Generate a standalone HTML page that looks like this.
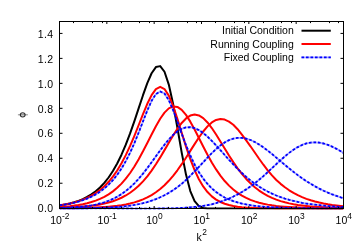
<!DOCTYPE html>
<html><head><meta charset="utf-8"><style>
html,body{margin:0;padding:0;background:#fff;}
svg{display:block;will-change:transform;font-family:"Liberation Sans",sans-serif;font-size:10.5px;fill:#000;}
</style></head><body>
<svg width="360" height="252" viewBox="0 0 360 252">
<rect width="360" height="252" fill="#fff"/>
<defs><clipPath id="cp"><rect x="59.5" y="21.5" width="284.0" height="188.1"/></clipPath></defs>
<g fill="none" stroke-width="2" stroke-linejoin="round" clip-path="url(#cp)">
<path d="M59.50,205.42 L61.30,205.14 L65.60,204.37 L69.90,203.42 L74.20,202.26 L78.50,200.83 L82.80,199.09 L87.10,196.97 L91.40,194.39 L95.70,191.26 L100.00,187.48 L104.30,182.93 L108.60,177.50 L112.90,171.05 L117.20,163.48 L121.50,154.69 L125.80,144.64 L130.10,133.38 L134.40,121.10 L138.70,108.16 L143.00,95.20 L147.30,83.16 L151.60,73.27 L155.90,67.06 L160.20,66.11 L164.50,71.76 L168.80,84.59 L173.10,103.97 L177.40,127.77 L181.70,152.58 L186.00,174.62 L190.30,191.10 L194.60,201.21 L198.90,206.13 L203.20,207.93 L207.50,208.41 L211.80,208.49 L216.10,208.50 L220.40,208.50 L224.70,208.50 L229.00,208.50 L233.30,208.50 L237.60,208.50 L241.90,208.50 L246.20,208.50 L250.50,208.50 L254.80,208.50 L259.10,208.50 L263.40,208.50 L267.70,208.50 L272.00,208.50 L276.30,208.50 L280.60,208.50 L284.90,208.50 L289.20,208.50 L293.50,208.50 L297.80,208.50 L302.10,208.50 L306.40,208.50 L310.70,208.50 L315.00,208.50 L319.30,208.50 L323.60,208.50 L327.90,208.50 L332.20,208.50 L336.50,208.50 L340.80,208.50 L343.50,208.50" stroke="#000"/>
<path d="M59.50,205.28 L61.30,205.01 L65.60,204.30 L69.90,203.44 L74.20,202.40 L78.50,201.15 L82.80,199.64 L87.10,197.83 L91.40,195.66 L95.70,193.06 L100.00,189.95 L104.30,186.23 L108.60,181.81 L112.90,176.59 L117.20,170.46 L121.50,163.33 L125.80,155.15 L130.10,145.93 L134.40,135.78 L138.70,125.00 L143.00,114.09 L147.30,103.79 L151.60,95.10 L155.90,89.12 L160.20,86.88 L164.50,89.03 L168.80,95.60 L173.10,105.93 L177.40,118.81 L181.70,132.81 L186.00,146.60 L190.30,159.23 L194.60,170.16 L198.90,179.20 L203.20,186.42 L207.50,192.05 L211.80,196.35 L216.10,199.58 L220.40,201.99 L224.70,203.76 L229.00,205.06 L233.30,206.01 L237.60,206.70 L241.90,207.20 L246.20,207.56 L250.50,207.82 L254.80,208.01 L259.10,208.15 L263.40,208.25 L267.70,208.32 L272.00,208.37 L276.30,208.41 L280.60,208.43 L284.90,208.45 L289.20,208.46 L293.50,208.47 L297.80,208.48 L302.10,208.49 L306.40,208.49 L310.70,208.49 L315.00,208.50 L319.30,208.50 L323.60,208.50 L327.90,208.50 L332.20,208.50 L336.50,208.50 L340.80,208.50 L343.50,208.50" stroke="#f00"/>
<path d="M59.50,207.05 L61.30,206.93 L65.60,206.57 L69.90,206.14 L74.20,205.61 L78.50,204.97 L82.80,204.18 L87.10,203.22 L91.40,202.06 L95.70,200.64 L100.00,198.93 L104.30,196.85 L108.60,194.36 L112.90,191.37 L117.20,187.81 L121.50,183.60 L125.80,178.67 L130.10,172.98 L134.40,166.49 L138.70,159.24 L143.00,151.32 L147.30,142.95 L151.60,134.43 L155.90,126.18 L160.20,118.73 L164.50,112.62 L168.80,108.39 L173.10,106.42 L177.40,106.93 L181.70,109.85 L186.00,114.91 L190.30,121.65 L194.60,129.53 L198.90,137.98 L203.20,146.53 L207.50,154.78 L211.80,162.47 L216.10,169.44 L220.40,175.62 L224.70,181.01 L229.00,185.63 L233.30,189.56 L237.60,192.87 L241.90,195.63 L246.20,197.93 L250.50,199.84 L254.80,201.41 L259.10,202.70 L263.40,203.76 L267.70,204.63 L272.00,205.34 L276.30,205.92 L280.60,206.40 L284.90,206.79 L289.20,207.10 L293.50,207.36 L297.80,207.57 L302.10,207.74 L306.40,207.88 L310.70,208.00 L315.00,208.09 L319.30,208.17 L323.60,208.23 L327.90,208.28 L332.20,208.32 L336.50,208.35 L340.80,208.38 L343.50,208.40" stroke="#f00"/>
<path d="M59.50,207.92 L61.30,207.86 L65.60,207.72 L69.90,207.54 L74.20,207.32 L78.50,207.06 L82.80,206.73 L87.10,206.33 L91.40,205.84 L95.70,205.24 L100.00,204.52 L104.30,203.63 L108.60,202.55 L112.90,201.24 L117.20,199.66 L121.50,197.75 L125.80,195.47 L130.10,192.74 L134.40,189.52 L138.70,185.74 L143.00,181.34 L147.30,176.29 L151.60,170.59 L155.90,164.26 L160.20,157.39 L164.50,150.13 L168.80,142.73 L173.10,135.47 L177.40,128.74 L181.70,122.94 L186.00,118.44 L190.30,115.58 L194.60,114.57 L198.90,115.46 L203.20,118.16 L207.50,122.46 L211.80,128.02 L216.10,134.46 L220.40,141.41 L224.70,148.51 L229.00,155.50 L233.30,162.15 L237.60,168.32 L241.90,173.93 L246.20,178.95 L250.50,183.37 L254.80,187.22 L259.10,190.55 L263.40,193.40 L267.70,195.84 L272.00,197.90 L276.30,199.64 L280.60,201.10 L284.90,202.33 L289.20,203.37 L293.50,204.23 L297.80,204.95 L302.10,205.54 L306.40,206.04 L310.70,206.46 L315.00,206.81 L319.30,207.09 L323.60,207.33 L327.90,207.53 L332.20,207.70 L336.50,207.83 L340.80,207.95 L343.50,208.01" stroke="#f00"/>
<path d="M59.50,208.33 L61.30,208.32 L65.60,208.28 L69.90,208.22 L74.20,208.16 L78.50,208.08 L82.80,207.98 L87.10,207.86 L91.40,207.71 L95.70,207.53 L100.00,207.31 L104.30,207.03 L108.60,206.70 L112.90,206.28 L117.20,205.77 L121.50,205.15 L125.80,204.40 L130.10,203.48 L134.40,202.36 L138.70,201.00 L143.00,199.37 L147.30,197.40 L151.60,195.06 L155.90,192.28 L160.20,189.01 L164.50,185.20 L168.80,180.82 L173.10,175.84 L177.40,170.29 L181.70,164.20 L186.00,157.68 L190.30,150.91 L194.60,144.10 L198.90,137.52 L203.20,131.51 L207.50,126.38 L211.80,122.43 L216.10,119.91 L220.40,118.96 L224.70,119.61 L229.00,121.58 L233.30,124.78 L237.60,129.23 L241.90,134.62 L246.20,140.46 L250.50,146.30 L254.80,152.48 L259.10,158.77 L263.40,164.73 L267.70,170.31 L272.00,175.42 L276.30,179.95 L280.60,183.85 L284.90,187.29 L289.20,190.30 L293.50,192.93 L297.80,195.20 L302.10,197.16 L306.40,198.85 L310.70,200.30 L315.00,201.53 L319.30,202.59 L323.60,203.49 L327.90,204.25 L332.20,204.90 L336.50,205.45 L340.80,205.92 L343.50,206.18" stroke="#f00"/>
<path d="M59.50,205.30 L61.30,205.05 L65.60,204.39 L69.90,203.60 L74.20,202.66 L78.50,201.53 L82.80,200.19 L87.10,198.59 L91.40,196.69 L95.70,194.42 L100.00,191.72 L104.30,188.50 L108.60,184.69 L112.90,180.16 L117.20,174.80 L121.50,168.51 L125.80,161.16 L130.10,152.68 L134.40,143.07 L138.70,132.49 L143.00,121.35 L147.30,110.42 L151.60,100.85 L155.90,94.09 L160.20,91.44 L164.50,93.57 L168.80,100.17 L173.10,110.06 L177.40,121.72 L181.70,133.75 L186.00,145.19 L190.30,155.51 L194.60,164.51 L198.90,172.17 L203.20,178.60 L207.50,183.95 L211.80,188.37 L216.10,192.01 L220.40,195.01 L224.70,197.46 L229.00,199.47 L233.30,201.11 L237.60,202.46 L241.90,203.56 L246.20,204.46 L250.50,205.20 L254.80,205.80 L259.10,206.29 L263.40,206.69 L267.70,207.02 L272.00,207.29 L276.30,207.51 L280.60,207.69 L284.90,207.84 L289.20,207.96 L293.50,208.06 L297.80,208.14 L302.10,208.21 L306.40,208.26 L310.70,208.30 L315.00,208.34 L319.30,208.37 L323.60,208.39 L327.90,208.41 L332.20,208.43 L336.50,208.44 L340.80,208.45 L343.50,208.46" stroke="#00f" stroke-opacity="0.35" stroke-width="1.8"/>
<path d="M59.50,205.30 L61.30,205.05 L65.60,204.39 L69.90,203.60 L74.20,202.66 L78.50,201.53 L82.80,200.19 L87.10,198.59 L91.40,196.69 L95.70,194.42 L100.00,191.72 L104.30,188.50 L108.60,184.69 L112.90,180.16 L117.20,174.80 L121.50,168.51 L125.80,161.16 L130.10,152.68 L134.40,143.07 L138.70,132.49 L143.00,121.35 L147.30,110.42 L151.60,100.85 L155.90,94.09 L160.20,91.44 L164.50,93.57 L168.80,100.17 L173.10,110.06 L177.40,121.72 L181.70,133.75 L186.00,145.19 L190.30,155.51 L194.60,164.51 L198.90,172.17 L203.20,178.60 L207.50,183.95 L211.80,188.37 L216.10,192.01 L220.40,195.01 L224.70,197.46 L229.00,199.47 L233.30,201.11 L237.60,202.46 L241.90,203.56 L246.20,204.46 L250.50,205.20 L254.80,205.80 L259.10,206.29 L263.40,206.69 L267.70,207.02 L272.00,207.29 L276.30,207.51 L280.60,207.69 L284.90,207.84 L289.20,207.96 L293.50,208.06 L297.80,208.14 L302.10,208.21 L306.40,208.26 L310.70,208.30 L315.00,208.34 L319.30,208.37 L323.60,208.39 L327.90,208.41 L332.20,208.43 L336.50,208.44 L340.80,208.45 L343.50,208.46" stroke="#00f" stroke-width="1.8" stroke-dasharray="2.6 1.9" stroke-dashoffset="0.0"/>
<path d="M59.50,207.95 L61.30,207.89 L65.60,207.72 L69.90,207.51 L74.20,207.25 L78.50,206.91 L82.80,206.50 L87.10,205.97 L91.40,205.32 L95.70,204.51 L100.00,203.50 L104.30,202.27 L108.60,200.76 L112.90,198.93 L117.20,196.74 L121.50,194.12 L125.80,191.04 L130.10,187.46 L134.40,183.37 L138.70,178.75 L143.00,173.65 L147.30,168.13 L151.60,162.31 L155.90,156.33 L160.20,150.38 L164.50,144.69 L168.80,139.47 L173.10,134.96 L177.40,131.36 L181.70,128.82 L186.00,127.42 L190.30,127.21 L194.60,128.14 L198.90,130.12 L203.20,133.01 L207.50,136.64 L211.80,140.82 L216.10,145.39 L220.40,150.17 L224.70,155.02 L229.00,159.82 L233.30,164.46 L237.60,168.89 L241.90,173.04 L246.20,176.90 L250.50,180.44 L254.80,183.67 L259.10,186.58 L263.40,189.21 L267.70,191.55 L272.00,193.64 L276.30,195.49 L280.60,197.12 L284.90,198.57 L289.20,199.83 L293.50,200.94 L297.80,201.92 L302.10,202.77 L306.40,203.52 L310.70,204.17 L315.00,204.73 L319.30,205.23 L323.60,205.66 L327.90,206.03 L332.20,206.35 L336.50,206.64 L340.80,206.88 L343.50,207.02" stroke="#00f" stroke-opacity="0.35" stroke-width="1.8"/>
<path d="M59.50,207.95 L61.30,207.89 L65.60,207.72 L69.90,207.51 L74.20,207.25 L78.50,206.91 L82.80,206.50 L87.10,205.97 L91.40,205.32 L95.70,204.51 L100.00,203.50 L104.30,202.27 L108.60,200.76 L112.90,198.93 L117.20,196.74 L121.50,194.12 L125.80,191.04 L130.10,187.46 L134.40,183.37 L138.70,178.75 L143.00,173.65 L147.30,168.13 L151.60,162.31 L155.90,156.33 L160.20,150.38 L164.50,144.69 L168.80,139.47 L173.10,134.96 L177.40,131.36 L181.70,128.82 L186.00,127.42 L190.30,127.21 L194.60,128.14 L198.90,130.12 L203.20,133.01 L207.50,136.64 L211.80,140.82 L216.10,145.39 L220.40,150.17 L224.70,155.02 L229.00,159.82 L233.30,164.46 L237.60,168.89 L241.90,173.04 L246.20,176.90 L250.50,180.44 L254.80,183.67 L259.10,186.58 L263.40,189.21 L267.70,191.55 L272.00,193.64 L276.30,195.49 L280.60,197.12 L284.90,198.57 L289.20,199.83 L293.50,200.94 L297.80,201.92 L302.10,202.77 L306.40,203.52 L310.70,204.17 L315.00,204.73 L319.30,205.23 L323.60,205.66 L327.90,206.03 L332.20,206.35 L336.50,206.64 L340.80,206.88 L343.50,207.02" stroke="#00f" stroke-width="1.8" stroke-dasharray="2.6 1.9" stroke-dashoffset="1.7"/>
<path d="M59.50,208.43 L61.30,208.42 L65.60,208.40 L69.90,208.38 L74.20,208.35 L78.50,208.31 L82.80,208.25 L87.10,208.19 L91.40,208.11 L95.70,208.01 L100.00,207.89 L104.30,207.73 L108.60,207.54 L112.90,207.30 L117.20,207.00 L121.50,206.64 L125.80,206.19 L130.10,205.64 L134.40,204.98 L138.70,204.17 L143.00,203.19 L147.30,202.02 L151.60,200.64 L155.90,199.07 L160.20,197.29 L164.50,195.23 L168.80,192.85 L173.10,190.16 L177.40,187.19 L181.70,183.83 L186.00,179.99 L190.30,175.75 L194.60,171.37 L198.90,166.88 L203.20,162.28 L207.50,157.60 L211.80,153.13 L216.10,149.04 L220.40,145.42 L224.70,142.41 L229.00,140.16 L233.30,138.67 L237.60,137.92 L241.90,137.91 L246.20,138.63 L250.50,140.01 L254.80,141.99 L259.10,144.48 L263.40,147.38 L267.70,150.60 L272.00,154.04 L276.30,157.62 L280.60,161.26 L284.90,164.87 L289.20,168.42 L293.50,171.85 L297.80,175.13 L302.10,178.23 L306.40,181.14 L310.70,183.84 L315.00,186.34 L319.30,188.64 L323.60,190.74 L327.90,192.64 L332.20,194.37 L336.50,195.93 L340.80,197.34 L343.50,198.14" stroke="#00f" stroke-opacity="0.35" stroke-width="1.8"/>
<path d="M59.50,208.43 L61.30,208.42 L65.60,208.40 L69.90,208.38 L74.20,208.35 L78.50,208.31 L82.80,208.25 L87.10,208.19 L91.40,208.11 L95.70,208.01 L100.00,207.89 L104.30,207.73 L108.60,207.54 L112.90,207.30 L117.20,207.00 L121.50,206.64 L125.80,206.19 L130.10,205.64 L134.40,204.98 L138.70,204.17 L143.00,203.19 L147.30,202.02 L151.60,200.64 L155.90,199.07 L160.20,197.29 L164.50,195.23 L168.80,192.85 L173.10,190.16 L177.40,187.19 L181.70,183.83 L186.00,179.99 L190.30,175.75 L194.60,171.37 L198.90,166.88 L203.20,162.28 L207.50,157.60 L211.80,153.13 L216.10,149.04 L220.40,145.42 L224.70,142.41 L229.00,140.16 L233.30,138.67 L237.60,137.92 L241.90,137.91 L246.20,138.63 L250.50,140.01 L254.80,141.99 L259.10,144.48 L263.40,147.38 L267.70,150.60 L272.00,154.04 L276.30,157.62 L280.60,161.26 L284.90,164.87 L289.20,168.42 L293.50,171.85 L297.80,175.13 L302.10,178.23 L306.40,181.14 L310.70,183.84 L315.00,186.34 L319.30,188.64 L323.60,190.74 L327.90,192.64 L332.20,194.37 L336.50,195.93 L340.80,197.34 L343.50,198.14" stroke="#00f" stroke-width="1.8" stroke-dasharray="2.6 1.9" stroke-dashoffset="3.1"/>
<path d="M59.50,208.49 L61.30,208.49 L65.60,208.49 L69.90,208.49 L74.20,208.49 L78.50,208.48 L82.80,208.48 L87.10,208.48 L91.40,208.47 L95.70,208.47 L100.00,208.46 L104.30,208.45 L108.60,208.46 L112.90,208.46 L117.20,208.48 L121.50,208.49 L125.80,208.50 L130.10,208.52 L134.40,208.53 L138.70,208.54 L143.00,208.54 L147.30,208.54 L151.60,208.53 L155.90,208.53 L160.20,208.52 L164.50,208.50 L168.80,208.44 L173.10,208.33 L177.40,208.18 L181.70,207.99 L186.00,207.72 L190.30,207.38 L194.60,206.96 L198.90,206.45 L203.20,205.85 L207.50,205.14 L211.80,204.28 L216.10,203.14 L220.40,201.75 L224.70,200.21 L229.00,198.51 L233.30,196.57 L237.60,194.41 L241.90,192.02 L246.20,189.39 L250.50,186.47 L254.80,183.26 L259.10,179.78 L263.40,176.07 L267.70,172.18 L272.00,168.18 L276.30,164.14 L280.60,160.17 L284.90,156.38 L289.20,152.86 L293.50,149.73 L297.80,147.07 L302.10,144.96 L306.40,143.44 L310.70,142.55 L315.00,142.28 L319.30,142.61 L323.60,143.50 L327.90,144.88 L332.20,146.68 L336.50,148.84 L340.80,151.27 L343.50,152.90" stroke="#00f" stroke-opacity="0.35" stroke-width="1.8"/>
<path d="M59.50,208.49 L61.30,208.49 L65.60,208.49 L69.90,208.49 L74.20,208.49 L78.50,208.48 L82.80,208.48 L87.10,208.48 L91.40,208.47 L95.70,208.47 L100.00,208.46 L104.30,208.45 L108.60,208.46 L112.90,208.46 L117.20,208.48 L121.50,208.49 L125.80,208.50 L130.10,208.52 L134.40,208.53 L138.70,208.54 L143.00,208.54 L147.30,208.54 L151.60,208.53 L155.90,208.53 L160.20,208.52 L164.50,208.50 L168.80,208.44 L173.10,208.33 L177.40,208.18 L181.70,207.99 L186.00,207.72 L190.30,207.38 L194.60,206.96 L198.90,206.45 L203.20,205.85 L207.50,205.14 L211.80,204.28 L216.10,203.14 L220.40,201.75 L224.70,200.21 L229.00,198.51 L233.30,196.57 L237.60,194.41 L241.90,192.02 L246.20,189.39 L250.50,186.47 L254.80,183.26 L259.10,179.78 L263.40,176.07 L267.70,172.18 L272.00,168.18 L276.30,164.14 L280.60,160.17 L284.90,156.38 L289.20,152.86 L293.50,149.73 L297.80,147.07 L302.10,144.96 L306.40,143.44 L310.70,142.55 L315.00,142.28 L319.30,142.61 L323.60,143.50 L327.90,144.88 L332.20,146.68 L336.50,148.84 L340.80,151.27 L343.50,152.90" stroke="#00f" stroke-width="1.8" stroke-dasharray="2.6 1.9" stroke-dashoffset="0.9"/>
</g>
<path d="M59.50,208.5 v-2.5 M59.50,21.5 v2.5 M73.50,208.5 v-1.6 M73.50,21.5 v1.6 M92.50,208.5 v-1.6 M92.50,21.5 v1.6 M102.50,208.5 v-1.6 M102.50,21.5 v1.6 M106.83,208.5 v-2.5 M106.83,21.5 v2.5 M121.50,208.5 v-1.6 M121.50,21.5 v1.6 M139.50,208.5 v-1.6 M139.50,21.5 v1.6 M149.50,208.5 v-1.6 M149.50,21.5 v1.6 M154.17,208.5 v-2.5 M154.17,21.5 v2.5 M168.50,208.5 v-1.6 M168.50,21.5 v1.6 M187.50,208.5 v-1.6 M187.50,21.5 v1.6 M196.50,208.5 v-1.6 M196.50,21.5 v1.6 M201.50,208.5 v-2.5 M201.50,21.5 v2.5 M215.50,208.5 v-1.6 M215.50,21.5 v1.6 M234.50,208.5 v-1.6 M234.50,21.5 v1.6 M244.50,208.5 v-1.6 M244.50,21.5 v1.6 M248.83,208.5 v-2.5 M248.83,21.5 v2.5 M263.50,208.5 v-1.6 M263.50,21.5 v1.6 M281.50,208.5 v-1.6 M281.50,21.5 v1.6 M291.50,208.5 v-1.6 M291.50,21.5 v1.6 M296.17,208.5 v-2.5 M296.17,21.5 v2.5 M310.50,208.5 v-1.6 M310.50,21.5 v1.6 M329.50,208.5 v-1.6 M329.50,21.5 v1.6 M338.50,208.5 v-1.6 M338.50,21.5 v1.6 M343.50,208.5 v-2.5 M343.50,21.5 v2.5 M59.5,208.20 h3 M343.5,208.20 h-3 M59.5,183.23 h3 M343.5,183.23 h-3 M59.5,158.26 h3 M343.5,158.26 h-3 M59.5,133.29 h3 M343.5,133.29 h-3 M59.5,108.32 h3 M343.5,108.32 h-3 M59.5,83.35 h3 M343.5,83.35 h-3 M59.5,58.38 h3 M343.5,58.38 h-3 M59.5,33.41 h3 M343.5,33.41 h-3" stroke="#000" stroke-width="1" fill="none"/>
<rect x="59.5" y="21.5" width="284.0" height="187.0" fill="none" stroke="#000" stroke-width="1"/>
<text letter-spacing="0.35" x="53.45" y="212.40" text-anchor="end">0.0</text><text letter-spacing="0.35" x="53.45" y="187.43" text-anchor="end">0.2</text><text letter-spacing="0.35" x="53.45" y="162.46" text-anchor="end">0.4</text><text letter-spacing="0.35" x="53.45" y="137.49" text-anchor="end">0.6</text><text letter-spacing="0.35" x="53.45" y="112.52" text-anchor="end">0.8</text><text letter-spacing="0.35" x="53.45" y="87.55" text-anchor="end">1.0</text><text letter-spacing="0.35" x="53.45" y="62.58" text-anchor="end">1.2</text><text letter-spacing="0.35" x="53.45" y="37.61" text-anchor="end">1.4</text>
<text x="59.80" y="223.7" text-anchor="middle">10<tspan font-size="8.4" dy="-4.7">-2</tspan></text><text x="107.13" y="223.7" text-anchor="middle">10<tspan font-size="8.4" dy="-4.7">-1</tspan></text><text x="154.47" y="223.7" text-anchor="middle">10<tspan font-size="8.4" dy="-4.7">0</tspan></text><text x="201.80" y="223.7" text-anchor="middle">10<tspan font-size="8.4" dy="-4.7">1</tspan></text><text x="249.13" y="223.7" text-anchor="middle">10<tspan font-size="8.4" dy="-4.7">2</tspan></text><text x="296.47" y="223.7" text-anchor="middle">10<tspan font-size="8.4" dy="-4.7">3</tspan></text><text x="343.80" y="223.7" text-anchor="middle">10<tspan font-size="8.4" dy="-4.7">4</tspan></text>
<text x="196.5" y="240.9">k<tspan font-size="8.4" dx="0.4" dy="-6.4">2</tspan></text>
<ellipse cx="22.7" cy="114.8" rx="2.4" ry="2.1" fill="#e4e4e4" stroke="#333" stroke-width="1.05"/>
<path d="M17.9,114.8 H27.9" stroke="#000" stroke-opacity="0.45" stroke-width="1" fill="none"/>
<g text-anchor="end">
<text x="293.8" y="34.1">Initial Condition</text>
<text x="293.8" y="47.5">Running Coupling</text>
<text x="293.8" y="60.9">Fixed Coupling</text>
</g>
<g fill="none" stroke-width="2">
<path d="M301.5,30.7 H330.8" stroke="#000"/>
<path d="M301.5,44 H330.8" stroke="#f00"/>
<path d="M301.5,57.4 H330.8" stroke="#00f" stroke-opacity="0.35" stroke-width="1.8"/><path d="M301.5,57.4 H330.8" stroke="#00f" stroke-dasharray="2.6 1.9" stroke-width="1.8"/>
</g>
</svg>
</body></html>
